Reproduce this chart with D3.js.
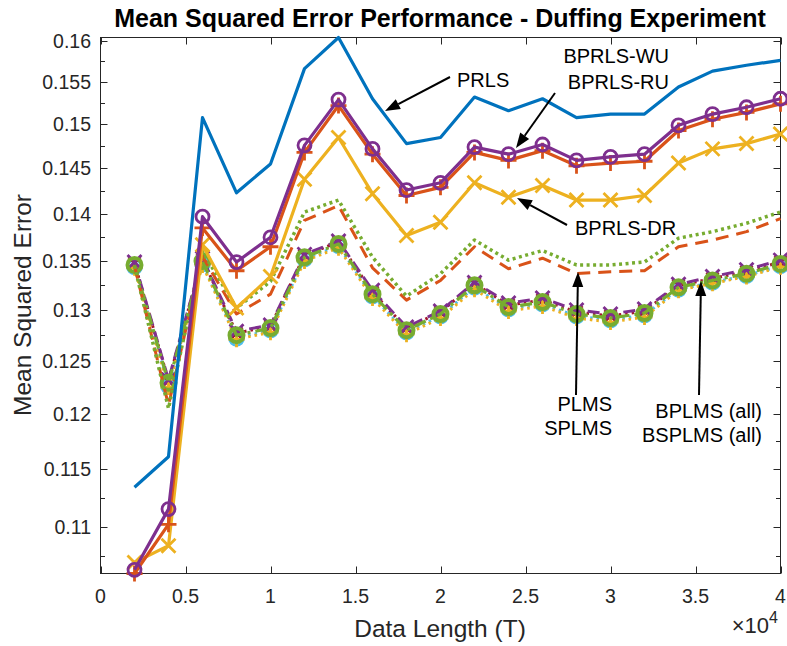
<!DOCTYPE html>
<html>
<head>
<meta charset="utf-8">
<script src="https://cdn.jsdelivr.net/npm/d3@7/dist/d3.min.js"></script>
<style>
  body { margin: 0; background: #fff; }
  text { font-family: "Liberation Sans", Arial, Helvetica, sans-serif; }
</style>
</head>
<body>
<svg id="chart" width="787" height="646"></svg>
<script>
// Data length T (samples)
const dataLength = [2000, 4000, 6000, 8000, 10000, 12000, 14000, 16000, 18000, 20000,
                    22000, 24000, 26000, 28000, 30000, 32000, 34000, 36000, 38000, 40000];

// Mean squared error per algorithm
const prls     = [0.1134, 0.1161, 0.1508, 0.1423, 0.1455, 0.1566, 0.1604, 0.1530, 0.1478, 0.1485,
                  0.1532, 0.1516, 0.1530, 0.1508, 0.1512, 0.1512, 0.1544, 0.1563, 0.1570, 0.1576];
const bprlsWU  = [0.1061, 0.1102, 0.1385, 0.1340, 0.1365, 0.1468, 0.1522, 0.1466, 0.1420, 0.1429,
                  0.1468, 0.1459, 0.1470, 0.1453, 0.1456, 0.1458, 0.1493, 0.1506, 0.1514, 0.1524];
const bprlsDR  = [0.1070, 0.1084, 0.1367, 0.1302, 0.1334, 0.1438, 0.1485, 0.1422, 0.1377, 0.1391,
                  0.1434, 0.1418, 0.1431, 0.1415, 0.1415, 0.1420, 0.1456, 0.1472, 0.1478, 0.1489];
const bprlsRU  = [0.1064, 0.1115, 0.1397, 0.1349, 0.1375, 0.1476, 0.1529, 0.1472, 0.1426, 0.1434,
                  0.1474, 0.1466, 0.1477, 0.1459, 0.1463, 0.1466, 0.1499, 0.1512, 0.1520, 0.1530];
const plms     = [0.1345, 0.1208, 0.1355, 0.1296, 0.1316, 0.1393, 0.1409, 0.1343, 0.1310, 0.1330,
                  0.1365, 0.1342, 0.1353, 0.1337, 0.1339, 0.1340, 0.1365, 0.1372, 0.1381, 0.1395];
const splms    = [0.1345, 0.1205, 0.1360, 0.1302, 0.1329, 0.1402, 0.1415, 0.1354, 0.1314, 0.1337,
                  0.1372, 0.1351, 0.1361, 0.1346, 0.1346, 0.1349, 0.1374, 0.1381, 0.1390, 0.1402];
const bplmsWU  = [0.1344, 0.1226, 0.1347, 0.1272, 0.1280, 0.1352, 0.1366, 0.1314, 0.1278, 0.1294,
                  0.1323, 0.1301, 0.1306, 0.1294, 0.1290, 0.1295, 0.1321, 0.1328, 0.1335, 0.1345];
const bplmsDR  = [0.1348, 0.1231, 0.1352, 0.1277, 0.1284, 0.1356, 0.1370, 0.1318, 0.1282, 0.1298,
                  0.1327, 0.1305, 0.1310, 0.1298, 0.1294, 0.1299, 0.1325, 0.1332, 0.1339, 0.1349];
const bplmsRU  = [0.1343, 0.1225, 0.1346, 0.1271, 0.1278, 0.1350, 0.1364, 0.1312, 0.1276, 0.1292,
                  0.1321, 0.1299, 0.1304, 0.1292, 0.1288, 0.1293, 0.1320, 0.1327, 0.1334, 0.1344];
const bsplmsDR = [0.1349, 0.1232, 0.1353, 0.1279, 0.1285, 0.1357, 0.1371, 0.1320, 0.1283, 0.1299,
                  0.1328, 0.1307, 0.1312, 0.1300, 0.1296, 0.1301, 0.1326, 0.1334, 0.1341, 0.1351];
const bsplmsRU = [0.1346, 0.1229, 0.1350, 0.1275, 0.1282, 0.1354, 0.1368, 0.1316, 0.1280, 0.1296,
                  0.1325, 0.1303, 0.1308, 0.1296, 0.1292, 0.1297, 0.1323, 0.1330, 0.1337, 0.1347];

// Axis ticks
const xTicks = [0, 5000, 10000, 15000, 20000, 25000, 30000, 35000, 40000];
const yTicks = [0.11, 0.115, 0.12, 0.125, 0.13, 0.135, 0.14, 0.145, 0.15, 0.155, 0.16];
const yMinorTicks = [0.1075, 0.1125, 0.1175, 0.1225, 0.1275, 0.1325, 0.1375, 0.1425, 0.1475, 0.1525, 0.1575];

const C = {
  blue: "#0072BD", orange: "#D95319", yellow: "#EDB120", purple: "#7E2F8E",
  green: "#77AC30", cyan: "#4DBEEE", red: "#A2142F"
};

// Drawing order: later entries sit on top
const series = [
  { values: bplmsWU,  color: C.cyan,   dash: "2.5,4",  width: 3,   marker: "o", size: 7 },
  { values: bplmsDR,  color: C.red,    dash: "2.5,4",  width: 3,   marker: "x", size: 6 },
  { values: bplmsRU,  color: C.yellow, dash: "2.5,4",  width: 3,   marker: "+", size: 8 },
  { values: bsplmsDR, color: C.purple, dash: "12,6",   width: 3,   marker: "x", size: 7 },
  { values: bsplmsRU, color: C.green,  dash: "12,5,3,5", width: 3.2, marker: "o", size: 7, mw: 4 },
  { values: plms,     color: C.orange, dash: "13,8",   width: 3,   marker: null },
  { values: splms,    color: C.green,  dash: "3,3.5",  width: 3.5, marker: null },
  { values: prls,     color: C.blue,   dash: null,     width: 3.2, marker: null },
  { values: bprlsDR,  color: C.yellow, dash: null,     width: 3.2, marker: "x", size: 7 },
  { values: bprlsWU,  color: C.orange, dash: null,     width: 3.2, marker: "+", size: 8 },
  { values: bprlsRU,  color: C.purple, dash: null,     width: 3.2, marker: "o", size: 6.5 }
];

const svg = d3.select("#chart");
const plot = { left: 100.5, right: 780.5, top: 37.5, bottom: 573.5 };
const axisColor = "#262626";

const allValues = series.flatMap(s => s.values);
const x = d3.scaleLinear().domain([0, 40000]).range([plot.left, plot.right]);
const y = d3.scaleLog().domain(d3.extent(allValues)).range([plot.bottom, plot.top]);

// Axes box
const gAxes = svg.append("g");
gAxes.append("rect")
  .attr("x", plot.left).attr("y", plot.top)
  .attr("width", plot.right - plot.left).attr("height", plot.bottom - plot.top)
  .attr("fill", "none").attr("stroke", axisColor).attr("stroke-width", 1);

const tickLen = 7, minorLen = 4.5;
// x ticks (bottom and top, pointing inward)
xTicks.forEach(t => {
  const px = Math.round(x(t)) + 0.5;
  gAxes.append("line").attr("x1", px).attr("x2", px)
    .attr("y1", plot.bottom).attr("y2", plot.bottom - tickLen)
    .attr("stroke", axisColor);
  gAxes.append("line").attr("x1", px).attr("x2", px)
    .attr("y1", plot.top).attr("y2", plot.top + tickLen)
    .attr("stroke", axisColor);
});
// y ticks (left and right)
yTicks.concat(yMinorTicks).forEach(t => {
  const py = Math.round(y(t)) + 0.5;
  const len = yTicks.includes(t) ? tickLen : minorLen;
  gAxes.append("line").attr("x1", plot.left).attr("x2", plot.left + len)
    .attr("y1", py).attr("y2", py).attr("stroke", axisColor);
  gAxes.append("line").attr("x1", plot.right).attr("x2", plot.right - len)
    .attr("y1", py).attr("y2", py).attr("stroke", axisColor);
});

// Tick labels
const tickFont = 19.5;
const fmtX = t => d3.format("~g")(t / 10000);
gAxes.selectAll(".xlab").data(xTicks).join("text")
  .attr("x", d => x(d)).attr("y", 603)
  .attr("text-anchor", "middle").attr("font-size", tickFont).attr("fill", axisColor)
  .text(fmtX);
gAxes.selectAll(".ylab").data(yTicks).join("text")
  .attr("x", 91).attr("y", d => y(d) + 7)
  .attr("text-anchor", "end").attr("font-size", tickFont).attr("fill", axisColor)
  .text(d => d3.format(".3~f")(d));

// Exponent label
const expo = gAxes.append("text").attr("x", 778).attr("y", 633)
  .attr("text-anchor", "end").attr("font-size", 22).attr("fill", axisColor);
expo.append("tspan").text("\u00d710");
expo.append("tspan").attr("font-size", 16).attr("dy", -10).text("4");

// Axis labels and title
svg.append("text").attr("x", 440).attr("y", 637)
  .attr("text-anchor", "middle").attr("font-size", 24.5).attr("fill", axisColor)
  .text("Data Length (T)");
svg.append("text").attr("transform", "translate(31,305) rotate(-90)")
  .attr("text-anchor", "middle").attr("font-size", 24.5).attr("fill", axisColor)
  .text("Mean Squared Error");
svg.append("text").attr("x", 440).attr("y", 27)
  .attr("text-anchor", "middle").attr("font-size", 25).attr("font-weight", "bold")
  .attr("fill", "#000")
  .text("Mean Squared Error Performance - Duffing Experiment");

// Series lines and markers
svg.append("clipPath").attr("id", "plotclip").append("rect")
  .attr("x", plot.left - 12).attr("y", plot.top - 12)
  .attr("width", plot.right - plot.left + 24).attr("height", plot.bottom - plot.top + 24);
const gData = svg.append("g").attr("clip-path", "url(#plotclip)");
const line = d3.line().x((d, i) => x(dataLength[i])).y(d => y(d));

series.forEach(s => {
  const g = gData.append("g");
  g.append("path").datum(s.values)
    .attr("d", line).attr("fill", "none")
    .attr("stroke", s.color).attr("stroke-width", s.width)
    .attr("stroke-linejoin", "round")
    .attr("stroke-dasharray", s.dash);
  if (!s.marker) return;
  const r = s.size, mw = s.mw || 2.8;
  s.values.forEach((v, i) => {
    const cx = x(dataLength[i]), cy = y(v);
    if (s.marker === "o") {
      g.append("circle").attr("cx", cx).attr("cy", cy).attr("r", r)
        .attr("fill", "none").attr("stroke", s.color).attr("stroke-width", mw);
    } else if (s.marker === "+") {
      g.append("path").attr("d", `M${cx - r},${cy}H${cx + r}M${cx},${cy - r}V${cy + r}`)
        .attr("stroke", s.color).attr("stroke-width", mw);
    } else if (s.marker === "x") {
      g.append("path").attr("d", `M${cx - r},${cy - r}L${cx + r},${cy + r}M${cx - r},${cy + r}L${cx + r},${cy - r}`)
        .attr("stroke", s.color).attr("stroke-width", mw);
    }
  });
});

// Annotations with arrows
const gAnn = svg.append("g");
function arrow(x1, y1, x2, y2) {
  const ang = Math.atan2(y2 - y1, x2 - x1);
  const L = 15, hw = 5.5;
  const bx = x2 - L * Math.cos(ang), by = y2 - L * Math.sin(ang);
  gAnn.append("line").attr("x1", x1).attr("y1", y1).attr("x2", bx).attr("y2", by)
    .attr("stroke", "#000").attr("stroke-width", 2);
  const px = -Math.sin(ang) * hw, py = Math.cos(ang) * hw;
  gAnn.append("path")
    .attr("d", `M${x2},${y2}L${bx + px},${by + py}L${bx - px},${by - py}Z`)
    .attr("fill", "#000");
}
function label(txt, xx, yy, anchor) {
  gAnn.append("text").attr("x", xx).attr("y", yy).attr("text-anchor", anchor || "start")
    .attr("font-size", 20).attr("fill", "#000").text(txt);
}
arrow(450, 77, 385, 111);
label("PRLS", 457, 87);
arrow(555, 93, 516, 148);
label("BPRLS-WU", 669, 63, "end");
label("BPRLS-RU", 669, 89, "end");
arrow(567, 225, 517, 198);
label("BPRLS-DR", 575, 235);
arrow(576, 395, 578, 272);
label("PLMS", 612, 411, "end");
label("SPLMS", 612, 435, "end");
arrow(699, 395, 701, 281);
label("BPLMS (all)", 762, 418, "end");
label("BSPLMS (all)", 762, 442, "end");
</script>
</body>
</html>
